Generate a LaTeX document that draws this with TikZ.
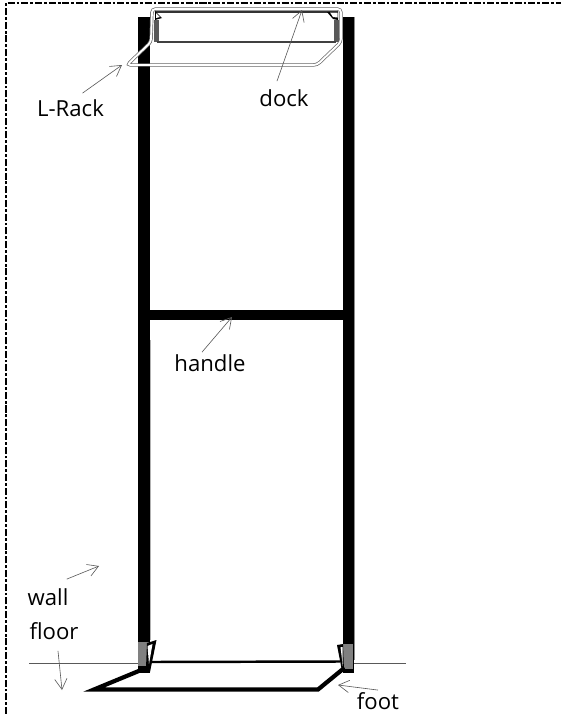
\documentclass[tikz,border=0pt]{standalone}
\usepackage{fontspec}
\setmainfont{Open Sans}
\usetikzlibrary{arrows.meta,positioning}
\tikzset{
  label text/.style={inner sep=0pt,font=\fontsize{12.6pt}{15pt}\selectfont},
  pointer/.style={draw=black!65,line width=0.35pt,-{Straight Barb[length=6pt,width=7pt,line width=0.35pt]}},
  post/.style={fill=black,draw=none},
  footing/.style={fill=black!50,draw=none},
  floorline/.style={draw=black!65,line width=0.5pt},
  thickline/.style={draw=black,line cap=round,line join=miter},
}
\begin{document}
\begin{tikzpicture}[x=0.02cm,y=-0.02cm]
      \useasboundingbox (0,0) rectangle (561,714);
      % Dashed border
      \draw[line width=1.7pt,dash pattern=on 4pt off 1.1pt on 1.6pt off 1.1pt] (6,714) -- (6,3) -- (561,3);
      % Floor
      \draw[floorline] (29,663) -- (138,663);
      \draw[floorline] (353,663) -- (406,663);
      % Posts
      \fill[post] (138,17) rectangle (149.5,673);
      \fill[post] (343,17) rectangle (354,673);
      \fill[black!45] (354,17) rectangle (355,660);
      \fill[black!30] (149.5,340) rectangle (150.3,640);
      % Handle
      \fill[post] (138,310) rectangle (354,320);
      % Grey ends of the posts
      \fill[footing] (138,642) rectangle (149,666);
      \fill[footing] (343,644) rectangle (353,669);
      % Foot
      \draw[thickline,line width=2.4pt] (146,668) -- (94,689.5) -- (318,689.5) -- (343,669);
      \draw[thickline,line width=1.4pt] (150,662) -- (340,661.5);
      % Wedges
      \fill[black] (147,643) -- (156.5,640) -- (150,672) -- (146,668) -- cycle;
      \fill[white] (147.5,646) -- (152.5,644) -- (149,664) -- cycle;
      \fill[black] (337,645) -- (343,644) -- (344,671) -- (342,671) -- cycle;
      \fill[white] (340.5,647) -- (342.5,647) -- (342.8,666) -- cycle;
      % Dock
      \fill[black!65] (154,20) rectangle (159,42);
      \fill[black!65] (334,20) rectangle (339,42);
      \draw[black!80,line width=1.4pt] (155,12) -- (338,12);
      \draw[black!75,line width=1.2pt] (157,42) -- (336,42);
      \fill[black] (155,11) -- (162,18) -- (155,20) -- cycle;
      \fill[white] (156,13) -- (160,17) -- (156,18) -- cycle;
      \fill[black] (327,12) -- (338,12) -- (338,20) -- (333,19) -- cycle;
      \fill[white] (330,12.5) -- (337.5,12.5) -- (337.5,17.5) -- (333,17) -- cycle;
      % L-Rack
      \draw[draw=black!60,double=white,double distance=1.1pt,line width=0.4pt,rounded corners=2pt]
        (152,9) -- (341,9) -- (341,42) -- (317,65) -- (127,65) -- (151,42) -- cycle;
      % Labels
      \node[label text] (lrack) at (70.5,108) {L-Rack};
      \node[label text] (dock) at (284,98) {dock};
      \node[label text] (handle) at (210,363) {handle};
      \node[label text] (wall) at (48,597) {wall};
      \node[label text] (floor) at (54,631) {floor};
      \node[label text] (foot) at (378,701) {foot};
      % Arrow ends
      \coordinate (lracktip) at (122,65);
      \coordinate (docktip) at (302,10);
      \coordinate (handletip) at (232,317);
      \coordinate (walltip) at (99,566);
      \coordinate (floortip) at (62,690);
      \coordinate (foottip) at (338,685);
      % Pointers
      \draw[pointer] (lrack.north)+(12,-6) -- (lracktip);
      \draw[pointer] (dock.north)+(-7,-8) -- (docktip);
      \draw[pointer] (handle.north)+(-8,-2) -- (handletip);
      \draw[pointer] (wall.north east)+(-2,-9) -- (walltip);
      \draw[pointer] (floor.south)+(4,11) -- (floortip);
      \draw[pointer] (foot.north)+(0,-2) -- (foottip);
    \end{tikzpicture}
\end{document}
